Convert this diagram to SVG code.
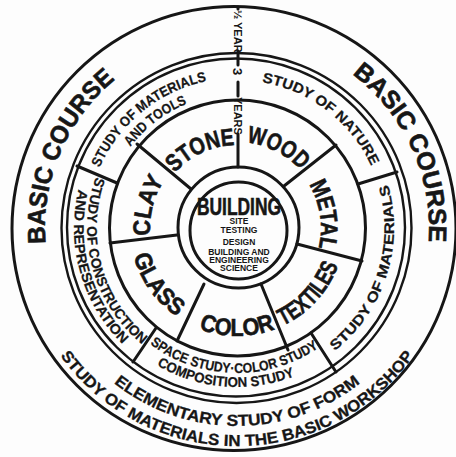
<svg xmlns="http://www.w3.org/2000/svg" width="456" height="457" viewBox="0 0 456 457">
<defs>
<style>
.ln{fill:none;stroke:#161616;stroke-width:3;stroke-linecap:round}
.ln2{fill:none;stroke:#161616;stroke-width:2.4}
text{font-family:"Liberation Sans",Arial,sans-serif;font-weight:700;fill:#161616;text-anchor:middle}
.big{font-size:24px;stroke:#161616;stroke-width:0.6}
.bc{font-size:25px;stroke:#161616;stroke-width:0.6}
.md{font-size:16px;stroke:#161616;stroke-width:0.3}
.sm{font-size:14px;stroke:#161616;stroke-width:0.25}
.xs{font-size:8.5px}
.vt{font-size:11px;text-anchor:start}
</style>
<path id="pBCL" d="M83.7,343.5 A192,192 0 0 1 213.6,37.4"/>
<path id="pBCR" d="M255.4,36.9 A192,192 0 0 1 393.3,339.5"/>
<path id="pElem" d="M65.5,327 A198,198 0 0 0 408.5,327"/>
<path id="pSMat" d="M32.1,302.6 A218,218 0 0 0 441.9,302.6"/>
<path id="pSMT1" d="M88.8,251.5 A150,150 0 0 1 290.8,88"/>
<path id="pSMT2" d="M104.1,245 A134,134 0 0 1 288.7,104.4"/>
<path id="pNat" d="M180.4,91.3 A148,148 0 0 1 383.7,247.3"/>
<path id="pMatR" d="M270.4,381.4 A157,157 0 0 0 353.1,122.3"/>
<path id="pCon1" d="M130.2,122.7 A150,150 0 0 0 199.2,373.2"/>
<path id="pCon2" d="M120.1,114.4 A163,163 0 0 0 197,386"/>
<path id="pSpc1" d="M109.8,297.6 A145,145 0 0 0 360.9,303.3"/>
<path id="pSpc2" d="M93.5,296.4 A159,159 0 0 0 368,318.1"/>
<path id="pStone" d="M154.3,220.8 A83,83 0 0 1 284.6,160"/>
<path id="pWood" d="M190.2,155.9 A86,86 0 0 1 322.9,223.5"/>
<path id="pMetal" d="M267.4,149.7 A84,84 0 0 1 289.6,293.5"/>
<path id="pText" d="M213.6,333.4 A108,108 0 0 0 340,195.5"/>
<path id="pColor" d="M143.5,282 A108,108 0 0 0 330.5,282"/>
<path id="pGlass" d="M139.6,183.6 A107,107 0 0 0 247.3,334.5"/>
<path id="pClay" d="M176.6,290.6 A87,87 0 0 1 213,144.4"/>
</defs>
<rect width="456" height="457" fill="#fdfdfd"/>
<g id="rings">
<circle class="ln" cx="234" cy="228.5" r="222"/>
<circle class="ln2" cx="236.5" cy="228" r="175"/>
<circle class="ln2" cx="236" cy="227.5" r="169"/>
<circle class="ln" cx="237.5" cy="228" r="128"/>
<circle class="ln" cx="238.5" cy="227.5" r="60.5"/>
<circle class="ln" cx="238.5" cy="230.5" r="48.5"/>
</g>
<g id="connectors">
<line class="ln" x1="238" y1="7" x2="238" y2="9"/>
<line class="ln" x1="238" y1="51" x2="238" y2="65"/>
<line class="ln" x1="238" y1="82" x2="238" y2="96"/>
<line class="ln" x1="238" y1="134" x2="238" y2="167"/>
<line class="ln" x1="137" y1="144" x2="191" y2="189"/>
<line class="ln" x1="336" y1="145" x2="284" y2="186"/>
<line class="ln" x1="297" y1="244" x2="362" y2="261"/>
<line class="ln" x1="261" y1="284" x2="288" y2="350"/>
<line class="ln" x1="204" y1="284" x2="177" y2="341"/>
<line class="ln" x1="110" y1="243" x2="177" y2="235"/>
<line class="ln" x1="358" y1="184" x2="397" y2="172"/>
<line class="ln" x1="311" y1="333" x2="336" y2="372"/>
<line class="ln" x1="156" y1="328" x2="133" y2="362"/>
<line class="ln" x1="117" y1="183" x2="77" y2="166"/>
</g>
<g id="years">
<text class="vt" transform="translate(234,10) rotate(90)">½ YEAR</text>
<text class="vt" transform="translate(233,68) rotate(90)" style="font-size:13px">3</text>
<text class="vt" transform="translate(234,97) rotate(90)">YEARS</text>
</g>
<g id="basic-course">
<text class="bc"><textPath href="#pBCL" startOffset="50%" textLength="185" lengthAdjust="spacingAndGlyphs">BASIC COURSE</textPath></text>
<text class="bc"><textPath href="#pBCR" startOffset="50%" textLength="192" lengthAdjust="spacingAndGlyphs">BASIC COURSE</textPath></text>
<text class="md"><textPath href="#pElem" startOffset="50%" textLength="266" lengthAdjust="spacingAndGlyphs">ELEMENTARY STUDY OF FORM</textPath></text>
<text class="md"><textPath href="#pSMat" startOffset="50%" textLength="412" lengthAdjust="spacingAndGlyphs">STUDY OF MATERIALS IN THE BASIC WORKSHOP</textPath></text>
</g>
<g id="study-materials-tools">
<text class="sm"><textPath href="#pSMT1" startOffset="50%" textLength="143" lengthAdjust="spacingAndGlyphs">STUDY OF MATERIALS</textPath></text>
<text class="sm"><textPath href="#pSMT2" startOffset="50%" textLength="72" lengthAdjust="spacingAndGlyphs">AND TOOLS</textPath></text>
</g>
<g id="study-nature">
<text class="sm"><textPath href="#pNat" startOffset="50%" textLength="143" lengthAdjust="spacingAndGlyphs">STUDY OF NATURE</textPath></text>
</g>
<g id="study-materials">
<text class="sm"><textPath href="#pMatR" startOffset="50%" textLength="185" lengthAdjust="spacingAndGlyphs">STUDY OF MATERIALS</textPath></text>
</g>
<g id="space-study">
<text class="sm"><textPath href="#pSpc1" startOffset="50%" textLength="180" lengthAdjust="spacingAndGlyphs">SPACE STUDY·COLOR STUDY</textPath></text>
<text class="sm"><textPath href="#pSpc2" startOffset="50%" textLength="143" lengthAdjust="spacingAndGlyphs">COMPOSITION STUDY</textPath></text>
</g>
<g id="study-construction">
<text class="sm"><textPath href="#pCon1" startOffset="50%" textLength="185" lengthAdjust="spacingAndGlyphs">STUDY OF CONSTRUCTION</textPath></text>
<text class="sm"><textPath href="#pCon2" startOffset="50%" textLength="168" lengthAdjust="spacingAndGlyphs">AND REPRESENTATION</textPath></text>
</g>
<g id="stone"><text class="big"><textPath href="#pStone" startOffset="50%" textLength="68" lengthAdjust="spacingAndGlyphs">STONE</textPath></text></g>
<g id="wood"><text class="big"><textPath href="#pWood" startOffset="50%" textLength="62" lengthAdjust="spacingAndGlyphs">WOOD</textPath></text></g>
<g id="metal"><text class="big"><textPath href="#pMetal" startOffset="50%" textLength="66" lengthAdjust="spacingAndGlyphs">METAL</textPath></text></g>
<g id="textiles"><text class="big"><textPath href="#pText" startOffset="50%" textLength="84" lengthAdjust="spacingAndGlyphs">TEXTILES</textPath></text></g>
<g id="color"><text class="big"><textPath href="#pColor" startOffset="50%" textLength="78" lengthAdjust="spacingAndGlyphs">COLOR</textPath></text></g>
<g id="glass"><text class="big"><textPath href="#pGlass" startOffset="50%" textLength="76" lengthAdjust="spacingAndGlyphs">GLASS</textPath></text></g>
<g id="clay"><text class="big"><textPath href="#pClay" startOffset="50%" textLength="58" lengthAdjust="spacingAndGlyphs">CLAY</textPath></text></g>
<g id="building">
<text class="big" x="239" y="215" textLength="84" lengthAdjust="spacingAndGlyphs">BUILDING</text>
<text class="xs" x="239" y="224">SITE</text>
<text class="xs" x="239" y="233">TESTING</text>
<text class="xs" x="239" y="245">DESIGN</text>
<text class="xs" x="239" y="255">BUILDING AND</text>
<text class="xs" x="239" y="263">ENGINEERING</text>
<text class="xs" x="239" y="271">SCIENCE</text>
</g>
</svg>
